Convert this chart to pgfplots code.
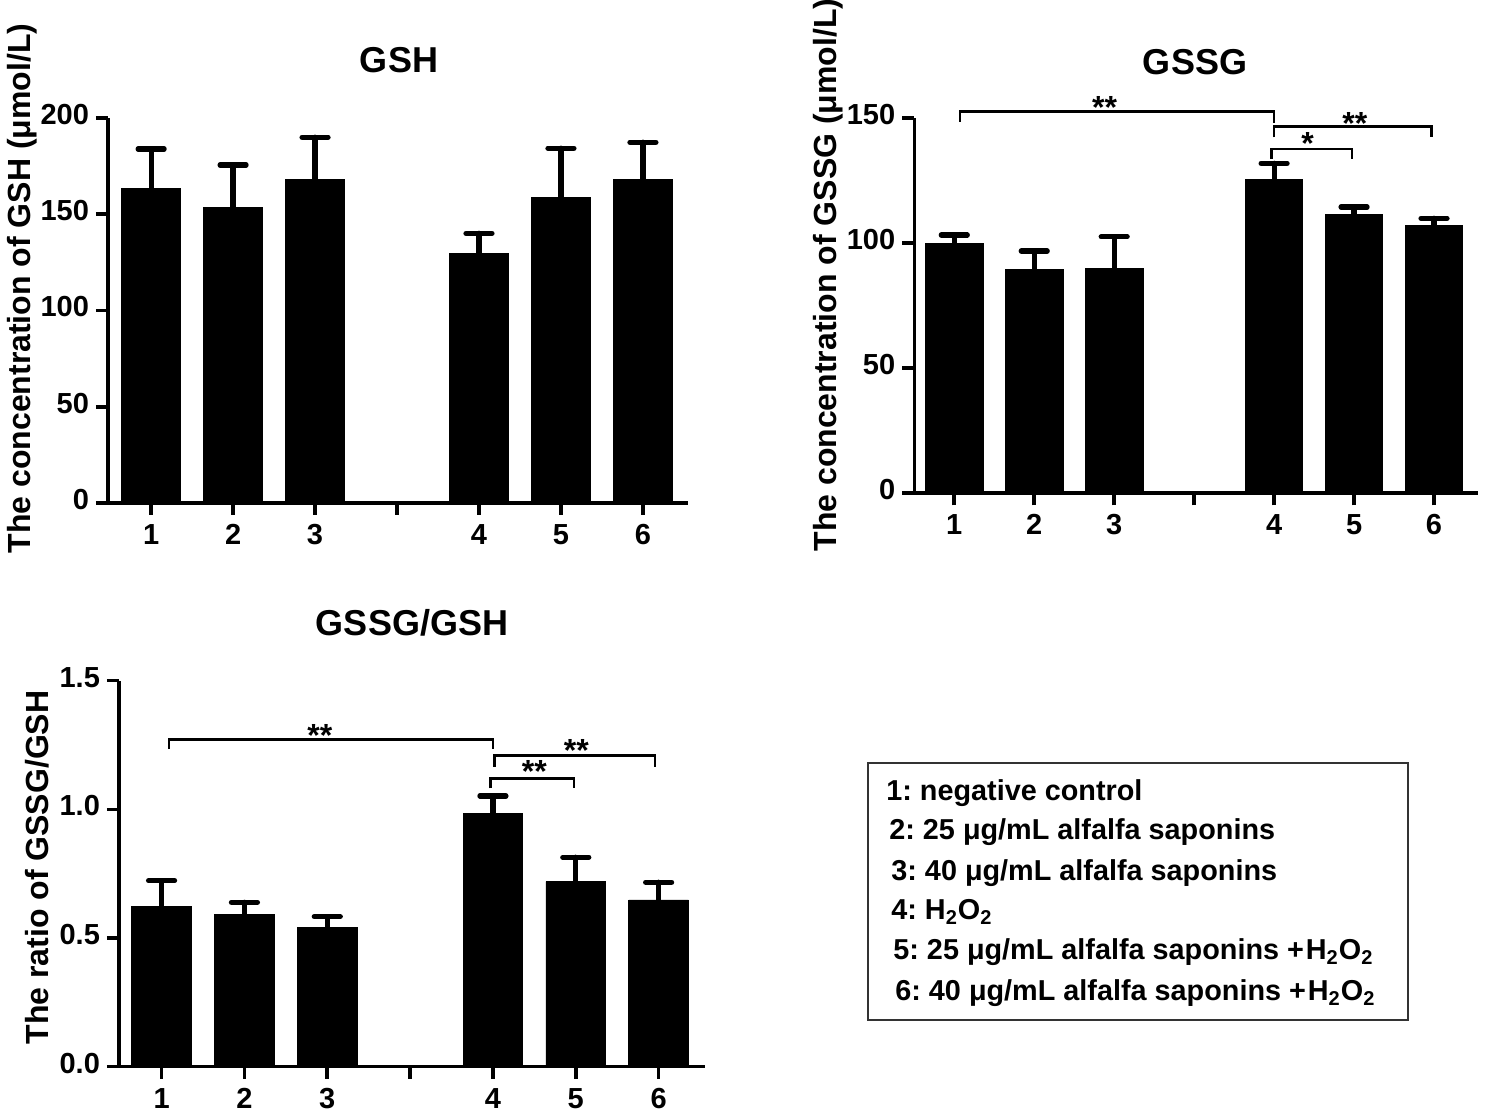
\documentclass[border=0pt]{standalone}
\usepackage{fontspec}
\setmainfont{Liberation Sans}
\usepackage{pgfplots}
\usepackage{pgfplotstable}
\pgfplotsset{compat=1.18}
\frenchspacing

\pgfplotstableread{
x y e
1 163.5 20.4
2 153.6 22.0
3 168.3 21.7
5 129.4 10.7
6 158.8 25.5
7 168.3 19.1
}\gsh
\pgfplotstableread{
x y e
1 100.0 3.3
2 89.6 7.3
3 90.0 12.6
5 125.7 6.3
6 111.4 3.1
7 107.3 2.7
}\gssg
\pgfplotstableread{
x y e
1 0.624 0.099
2 0.590 0.049
3 0.540 0.043
5 0.985 0.067
6 0.719 0.095
7 0.648 0.069
}\ratio

\pgfplotsset{prism/.style={
  scale only axis,
  axis x line*=bottom, axis y line*=left,
  axis line style={line width=1.8pt, -},
  tick style={line width=1.8pt, black},
  tick align=outside,
  major tick length=6pt,
  xtick={1,...,7}, xticklabels={1,2,3,{},4,5,6},
  typeset ticklabels with strut,
  ymin=0,
  ybar, bar width=0.72,
  /pgf/number format/assume math mode=true,
  tick label style={font=\fontsize{14.5}{16}\selectfont\bfseries},
  error bars/y dir=plus, error bars/y explicit,
  error bars/error bar style={line width=2.6pt, line cap=round, black},
  error bars/error mark options={rotate=90, mark size=6.5pt, line width=2.6pt, line cap=round, black},
  clip=false,
}}
\tikzset{bracket/.style={line width=1.3pt, black}, star/.style={font=\fontsize{16}{18}\selectfont\bfseries, anchor=base, inner sep=0pt}}

\begin{document}
\begin{tikzpicture}[font=\bfseries]
\useasboundingbox (0,0) rectangle (742.5pt,557pt);

% Panel 1: GSH
\begin{axis}[prism, at={(54pt,305.5pt)}, anchor=south west,
  width=290pt, height=192.5pt, xmin=0.474, xmax=7.55, ymax=200,
  ytick={0,50,100,150,200}]
\addplot[fill=black, draw=black] table[x=x, y=y, y error=e] {\gsh};
\end{axis}

% Panel 2: GSSG
\begin{axis}[prism, at={(457.15pt,310.35pt)}, anchor=south west,
  width=281.85pt, height=187.5pt, xmin=0.5, xmax=7.55, ymax=150,
  ytick={0,50,100,150}]
\addplot[fill=black, draw=black] table[x=x, y=y, y error=e] {\gssg};
\draw[bracket] (axis cs:1.07,148.6) |- (axis cs:5,152.6) -- (axis cs:5,148);
\draw[bracket] (axis cs:5,142.4) |- (axis cs:6.97,146.7) -- (axis cs:6.97,142.4);
\draw[bracket] (axis cs:4.97,133.7) |- (axis cs:5.975,137.7) -- (axis cs:5.975,133.7);
\node[star] at (axis cs:2.88,150.0) {**};
\node[star] at (axis cs:6.01,143.6) {**};
\node[star] at (axis cs:5.42,135.4) {*};
\end{axis}

% Panel 3: GSSG/GSH
\begin{axis}[prism, at={(59.5pt,23.65pt)}, anchor=south west,
  width=293pt, height=193pt, xmin=0.486, xmax=7.56, ymax=1.5,
  ytick={0,0.5,1,1.5},
  yticklabel style={/pgf/number format/fixed, /pgf/number format/fixed zerofill, /pgf/number format/precision=1}]
\addplot[fill=black, draw=black] table[x=x, y=y, y error=e] {\ratio};
\draw[bracket] (axis cs:1.09,1.234) |- (axis cs:5.0,1.272) -- (axis cs:5.0,1.234);
\draw[bracket] (axis cs:5.02,1.166) |- (axis cs:6.955,1.209) -- (axis cs:6.955,1.166);
\draw[bracket] (axis cs:4.97,1.082) |- (axis cs:5.98,1.121) -- (axis cs:5.98,1.082);
\node[star] at (axis cs:2.91,1.244) {**};
\node[star] at (axis cs:6.007,1.185) {**};
\node[star] at (axis cs:5.50,1.103) {**};
\end{axis}

% Titles
\node[font=\fontsize{18}{21}\selectfont\bfseries] at (199.5pt,527pt) {GSH};
\node[font=\fontsize{18}{21}\selectfont\bfseries] at (597.5pt,526pt) {GSSG};
\node[font=\fontsize{18}{21}\selectfont\bfseries] at (206pt,245.5pt) {GSSG/GSH};

% Y labels
\node[rotate=90, font=\fontsize{16}{19}\selectfont\bfseries] at (11pt,412.75pt) {The concentration of GSH (μmol/L)};
\node[rotate=90, font=\fontsize{16}{19}\selectfont\bfseries] at (414pt,419.5pt) {The concentration of GSSG (μmol/L)};
\node[rotate=90, font=\fontsize{16}{19}\selectfont\bfseries] at (18.5pt,123.25pt) {The ratio of GSSG/GSH};

% Legend box
\draw[line width=0.6pt, black!80] (434pt,175.5pt) rectangle (704pt,47pt);
\begin{scope}[every node/.style={anchor=base west, inner sep=0pt, font=\fontsize{14.4}{16}\selectfont\bfseries}]
\node at (443pt,156.5pt) {1: negative control};
\node at (444.5pt,137pt) {2: 25 μg/mL alfalfa saponins};
\node at (445.5pt,116.5pt) {3: 40 μg/mL alfalfa saponins};
\node at (445.5pt,97pt) {4: H\textsubscript{2}O\textsubscript{2}};
\node at (446.5pt,77pt) {5: 25 μg/mL alfalfa saponins +\kern1pt H\textsubscript{2}O\textsubscript{2}};
\node at (447.5pt,56.5pt) {6: 40 μg/mL alfalfa saponins +\kern1pt H\textsubscript{2}O\textsubscript{2}};
\end{scope}
\end{tikzpicture}
\end{document}
